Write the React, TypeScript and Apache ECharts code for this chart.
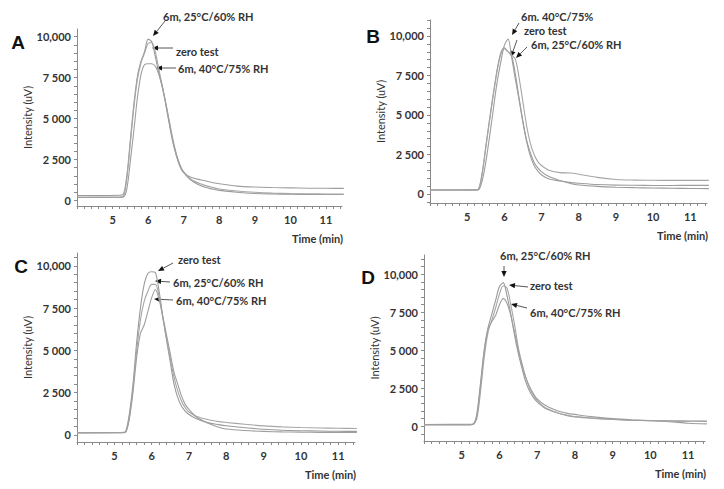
import React, { useEffect, useRef } from "react";
import * as echarts from "echarts";

// ---------- data ----------
const TIME = [4.0, 5.2, 5.3, 5.4, 5.5, 5.6, 5.7, 5.8, 5.9, 6.0, 6.1, 6.2, 6.3, 6.4, 6.5, 6.6, 6.7, 6.8, 6.9, 7.0, 7.2, 7.5, 7.8, 8.0, 8.5, 9.0, 9.5, 10.0, 10.5, 11.0, 11.5];

const A_25 = [300, 320, 360, 1500, 3700, 5900, 7600, 8500, 9100, 9850, 9700, 8800, 7800, 6900, 5800, 4600, 3500, 2700, 2100, 1700, 1250, 880, 700, 620, 500, 430, 400, 380, 370, 370, 370];
const A_ZERO = [180, 190, 220, 1300, 3500, 5700, 7400, 8400, 9000, 9600, 9650, 9100, 8000, 7000, 5900, 4800, 3700, 2800, 2150, 1750, 1300, 1000, 800, 700, 580, 500, 450, 420, 410, 400, 400];
const A_40 = [200, 210, 220, 700, 2400, 4300, 6300, 7700, 8300, 8350, 8350, 8200, 7700, 6900, 5900, 4700, 3600, 2700, 2050, 1700, 1420, 1250, 1100, 1020, 880, 820, 790, 770, 750, 745, 740];

const B_ZERO = [250, 260, 300, 1300, 3000, 4700, 6300, 7800, 8900, 9250, 9000, 8700, 7500, 6000, 4600, 3400, 2600, 2000, 1650, 1400, 1100, 850, 650, 570, 480, 430, 400, 380, 360, 350, 340];
const B_25 = [250, 260, 280, 1200, 2900, 4600, 6200, 7700, 8800, 9200, 9000, 8800, 8500, 7300, 5800, 4300, 3200, 2500, 2050, 1800, 1500, 1350, 1330, 1250, 1050, 920, 880, 870, 860, 860, 860];
const B_40 = [250, 260, 260, 800, 2000, 3600, 5300, 7000, 8300, 9400, 9800, 8600, 7200, 5900, 4500, 3300, 2400, 1800, 1450, 1200, 950, 820, 720, 680, 600, 560, 550, 540, 540, 545, 545];

const C_ZERO = [120, 130, 180, 1200, 3000, 5500, 7500, 8900, 9550, 9650, 9600, 8500, 7000, 5600, 4300, 3000, 2200, 1700, 1400, 1200, 950, 720, 600, 535, 420, 330, 270, 240, 220, 205, 200];
const C_25 = [130, 140, 170, 1000, 2700, 5000, 6800, 7900, 8500, 8900, 8900, 8200, 6900, 5700, 4500, 3400, 2600, 2000, 1600, 1350, 1100, 900, 780, 730, 620, 530, 470, 430, 400, 385, 375];
const C_40 = [110, 120, 150, 900, 2500, 4600, 6000, 6500, 7300, 8100, 8600, 8000, 7000, 5900, 4800, 3700, 3000, 2300, 1800, 1500, 1050, 700, 450, 340, 250, 200, 170, 155, 145, 140, 140];

const D_25 = [100, 110, 130, 800, 2900, 5100, 6500, 7400, 8300, 9200, 9450, 8600, 7400, 6000, 4800, 3800, 2900, 2300, 1900, 1600, 1200, 900, 700, 620, 520, 450, 400, 370, 350, 330, 320];
const D_ZERO = [80, 90, 110, 500, 2300, 4600, 6200, 7000, 7800, 8700, 9250, 9100, 8000, 6700, 5200, 4100, 3200, 2500, 2050, 1700, 1250, 920, 720, 640, 530, 460, 410, 380, 360, 350, 340];
const D_40 = [120, 130, 150, 700, 2700, 5000, 6400, 6900, 7300, 8000, 8400, 8100, 7300, 6200, 5000, 4000, 3200, 2600, 2150, 1800, 1400, 1050, 850, 780, 620, 500, 420, 360, 300, 200, 160];

const X_TICK_LABELS = ["5", "6", "7", "8", "9", "10", "11"];
const X_TICK_VALUES = [5, 6, 7, 8, 9, 10, 11];
const Y_TICK_VALUES = [0, 2500, 5000, 7500, 10000];
const Y_TICK_LABELS = ["0", "2 500", "5 000", "7 500", "10,000"];

const PANEL_LETTERS = ["A", "B", "C", "D"];
const PANEL_SERIES = [
  [A_25, A_ZERO, A_40],
  [B_ZERO, B_25, B_40],
  [C_ZERO, C_25, C_40],
  [D_25, D_ZERO, D_40],
];
const Y_RANGES = [
  [-336, 10470],
  [-570, 11010],
  [-427, 10760],
  [-970, 11270],
];
const X_MIN = 4;
const X_MAX = 11.45;

// ---------- layout ----------
const GRIDS = [
  { left: 77, top: 29, width: 265, height: 177, nameGap: 35, letter: [18, 42] },
  { left: 430, top: 20, width: 277, height: 183, nameGap: 35, letter: [373, 36] },
  { left: 77, top: 253, width: 278, height: 189, nameGap: 38, letter: [21, 266] },
  { left: 424, top: 255, width: 281, height: 186, nameGap: 44, letter: [368, 277] },
];

type Ann = { text: string; at: number[]; from: number[]; to: number[] };
const ANNOTATIONS: Ann[][] = [
  [
    { text: "6m, 25°C/60% RH", at: [163, 16], from: [165, 21], to: [153, 36] },
    { text: "zero test", at: [176, 51], from: [173, 48], to: [152, 48] },
    { text: "6m, 40°C/75% RH", at: [178, 68], from: [176, 68], to: [156, 68] },
  ],
  [
    { text: "6m. 40°C/75%", at: [521, 16], from: [519, 23], to: [512, 35] },
    { text: "zero test", at: [524, 30], from: [517, 40], to: [511, 57] },
    { text: "6m, 25°C/60% RH", at: [531, 44], from: [527, 47], to: [516, 58] },
  ],
  [
    { text: "zero test", at: [178, 259], from: [173, 263], to: [158, 271] },
    { text: "6m, 25°C/60% RH", at: [173, 282], from: [170, 282], to: [155, 281] },
    { text: "6m, 40°C/75% RH", at: [176, 300], from: [173, 300], to: [154, 299] },
  ],
  [
    { text: "6m, 25°C/60% RH", at: [500, 255], from: [504, 266], to: [504, 277] },
    { text: "zero test", at: [530, 285], from: [528, 287], to: [509, 285] },
    { text: "6m, 40°C/75% RH", at: [530, 312], from: [527, 308], to: [511, 304] },
  ],
];

const LINE_COLORS = ["#9a9a9a", "#a6a6a6", "#9e9e9e"];
const AXIS_COLOR = "#8a8a8a";
const TEXT_COLOR = "#333333";
const FONT = "Lato";

function range(a: number, b: number, step: number) {
  const out: number[] = [];
  for (let v = a; v <= b + 1e-9; v += step) out.push(Math.round(v * 1000) / 1000);
  return out;
}

function arrow(from: number[], to: number[]) {
  const dx = to[0] - from[0];
  const dy = to[1] - from[1];
  const len = Math.sqrt(dx * dx + dy * dy) || 1;
  const ux = dx / len, uy = dy / len;
  const nx = -uy, ny = ux;
  const L = 6, W = 2.6;
  const bx = to[0] - ux * L, by = to[1] - uy * L;
  return [
    {
      type: "line",
      shape: { x1: from[0], y1: from[1], x2: bx, y2: by },
      style: { stroke: "#444", lineWidth: 0.9 },
      silent: true,
    },
    {
      type: "polygon",
      shape: { points: [[to[0], to[1]], [bx + nx * W, by + ny * W], [bx - nx * W, by - ny * W]] },
      style: { fill: "#111" },
      silent: true,
    },
  ];
}

function buildOption() {
  const grid: any[] = [];
  const xAxis: any[] = [];
  const yAxis: any[] = [];
  const series: any[] = [];
  const graphic: any[] = [];
  const xTicks = range(4, 11.4, 0.2);

  GRIDS.forEach((g, i) => {
    grid.push({ left: g.left, top: g.top, width: g.width, height: g.height });
    const [ymin, ymax] = Y_RANGES[i];
    const yTicks = range(Math.ceil(ymin / 500) * 500, ymax, 500);
    xAxis.push({
      type: "value",
      gridIndex: i,
      min: X_MIN,
      max: X_MAX,
      axisLine: { onZero: false, lineStyle: { color: AXIS_COLOR, width: 1 } },
      axisTick: { show: true, length: 3, customValues: xTicks, lineStyle: { color: AXIS_COLOR, width: 1 } },
      axisLabel: {
        customValues: X_TICK_VALUES,
        formatter: (v: number) => {
          const k = X_TICK_VALUES.indexOf(Math.round(v * 1000) / 1000);
          return k >= 0 ? X_TICK_LABELS[k] : "";
        },
        margin: 8,
        fontSize: 11,
        fontWeight: "bold",
        color: TEXT_COLOR,
        fontFamily: FONT,
      },
      splitLine: { show: false },
    });
    yAxis.push({
      type: "value",
      gridIndex: i,
      min: ymin,
      max: ymax,
      name: "Intensity (uV)",
      nameLocation: "middle",
      nameGap: g.nameGap,
      nameTextStyle: { fontSize: 11, color: TEXT_COLOR, fontFamily: FONT },
      axisLine: { show: true, onZero: false, lineStyle: { color: AXIS_COLOR, width: 1 } },
      axisTick: { show: true, length: 3, customValues: yTicks, lineStyle: { color: AXIS_COLOR, width: 1 } },
      axisLabel: {
        customValues: Y_TICK_VALUES,
        formatter: (v: number) => {
          const k = Y_TICK_VALUES.indexOf(Math.round(v));
          return k >= 0 ? Y_TICK_LABELS[k] : "";
        },
        margin: 6,
        fontSize: 11,
        fontWeight: "bold",
        color: TEXT_COLOR,
        fontFamily: FONT,
      },
      splitLine: { show: false },
    });
    PANEL_SERIES[i].forEach((vals, s) => {
      series.push({
        type: "line",
        xAxisIndex: i,
        yAxisIndex: i,
        data: TIME.map((t, k) => [t, vals[k]]),
        showSymbol: false,
        symbol: "none",
        smooth: 0.3,
        silent: true,
        lineStyle: { color: LINE_COLORS[s], width: 1.1 },
      });
    });
    graphic.push({
      type: "text",
      x: g.letter[0],
      y: g.letter[1],
      style: {
        text: PANEL_LETTERS[i],
        fill: "#111",
        font: "bold 19px 'Liberation Sans', Arial, sans-serif",
        textAlign: "center",
        textVerticalAlign: "middle",
      },
      silent: true,
    });
    graphic.push({
      type: "text",
      x: g.left + g.width + 1,
      y: g.top + g.height + 32,
      style: {
        text: "Time (min)",
        fill: TEXT_COLOR,
        font: `bold 11px ${FONT}`,
        textAlign: "right",
        textVerticalAlign: "middle",
      },
      silent: true,
    });
    ANNOTATIONS[i].forEach((a) => {
      graphic.push(...arrow(a.from, a.to));
      graphic.push({
        type: "text",
        x: a.at[0],
        y: a.at[1],
        style: {
          text: a.text,
          fill: TEXT_COLOR,
          font: `bold 11px ${FONT}`,
          lineHeight: 11,
          textAlign: "left",
          textVerticalAlign: "middle",
        },
        silent: true,
      });
    });
  });

  return {
    animation: false,
    backgroundColor: "#ffffff",
    textStyle: { fontFamily: FONT },
    grid,
    xAxis,
    yAxis,
    series,
    graphic,
  };
}

export default function App() {
  const ref = useRef<HTMLDivElement>(null);
  useEffect(() => {
    if (!ref.current) return;
    const chart = echarts.init(ref.current, null, { renderer: "svg" });
    chart.setOption(buildOption() as any);
    return () => chart.dispose();
  }, []);
  return (
    <div
      ref={ref}
      style={{ position: "fixed", left: 0, top: 0, width: 724, height: 489, background: "#fff" }}
    />
  );
}
